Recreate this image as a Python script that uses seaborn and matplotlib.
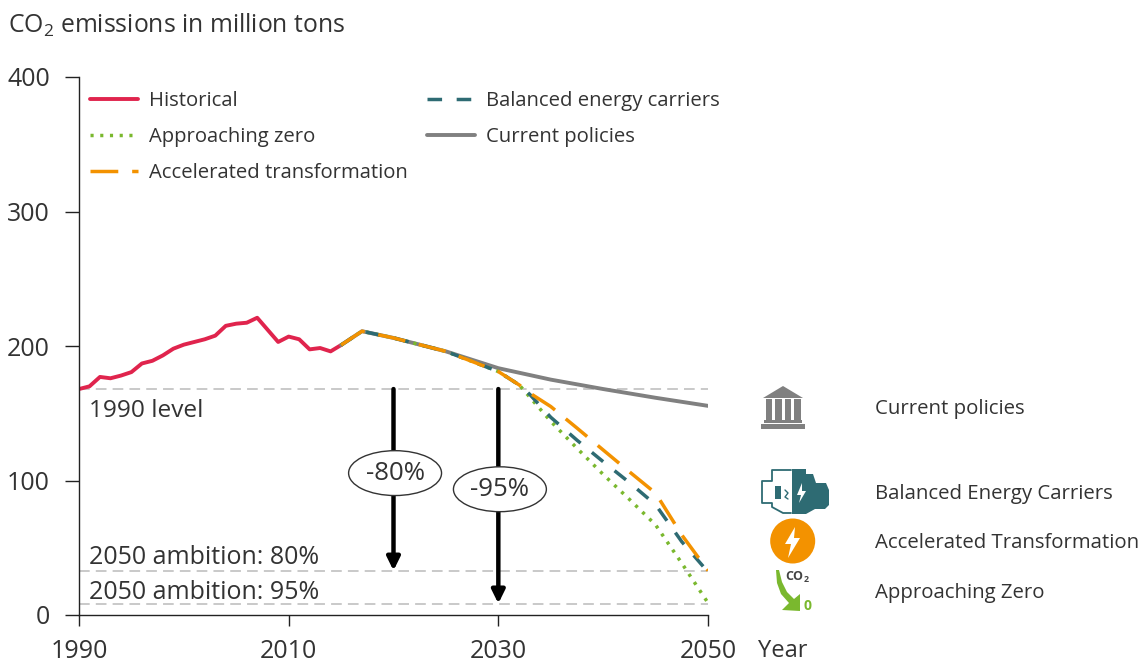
import numpy as np
import pandas as pd
import matplotlib
matplotlib.use("Agg")
import matplotlib.pyplot as plt
from matplotlib.patches import Circle, Polygon, Rectangle
import seaborn as sns

hist_years = list(range(1990, 2016))
hist_values = [168, 170, 177, 176, 178, 180.6, 187, 189, 193, 198, 201, 203, 205,
               207.7, 215, 216.6, 217.3, 221, 212, 203, 207, 205, 197.5, 198.5, 196, 200.7]

shared_years = [2015, 2017, 2020, 2025, 2030, 2032]
shared_values = [200.7, 211, 206, 196, 181, 171]

current_years = [2015, 2017, 2020, 2025, 2030, 2035, 2040, 2045, 2050]
current_values = [200.7, 211, 206, 196, 183.5, 175, 168, 161.5, 155.5]

zero_years = [2033, 2035, 2037.5, 2040, 2042.5, 2045, 2047.5, 2050]
zero_values = [162, 144, 124, 104.5, 86, 67, 38.5, 9]

balanced_years = [2033, 2035, 2037.5, 2040, 2042.5, 2045, 2047.5, 2050]
balanced_values = [164, 147, 130, 114, 98.5, 82, 54.5, 32]

accelerated_years = [2033, 2035, 2037.5, 2040, 2042.5, 2045, 2047.5, 2050]
accelerated_values = [165, 155, 139, 122.7, 106.5, 90.6, 59.5, 33]

levels = [168, 33, 8.5]
level_labels = ["1990 level", "2050 ambition: 80%", "2050 ambition: 95%"]
icon_labels = ["Current policies", "Balanced Energy Carriers", "Accelerated Transformation", "Approaching Zero"]

RED = "#E0244D"
GREEN = "#7AB82E"
ORANGE = "#F39200"
TEAL = "#2E6B73"
GREY = "#808080"
INK = "#333333"

sns.set_theme(style="ticks")
plt.rcParams["font.family"] = ["Open Sans", "DejaVu Sans"]
plt.rcParams["mathtext.default"] = "regular"

fig = plt.figure(figsize=(11.46, 6.62), dpi=100)
ax = fig.add_axes([79 / 1146, 1 - 615 / 662, 629 / 1146, 538 / 662])

for y in levels:
    ax.axhline(y, color="#BBBBBB", lw=1.1, ls=(0, (7, 4)), zorder=1)

sns.lineplot(x=hist_years, y=hist_values, color=RED, lw=2.8, ax=ax, label="Historical")
sns.lineplot(x=current_years, y=current_values, color=GREY, lw=2.8, ax=ax, label="Current policies")
sns.lineplot(x=shared_years + zero_years, y=shared_values + zero_values, color=GREEN, lw=2.5,
             ls=(0, (0.9, 1.9)), ax=ax, label="Approaching zero")
sns.lineplot(x=shared_years + balanced_years, y=shared_values + balanced_values, color=TEAL, lw=2.5,
             ls=(0, (4.2, 4.2)), ax=ax, label="Balanced energy carriers")
sns.lineplot(x=shared_years + accelerated_years, y=shared_values + accelerated_values, color=ORANGE, lw=2.5,
             ls=(0, (8, 4)), ax=ax, label="Accelerated transformation")

handles, labels = ax.get_legend_handles_labels()
order = ["Historical", "Approaching zero", "Accelerated transformation",
         "Balanced energy carriers", "Current policies"]
handles = [handles[labels.index(n)] for n in order]
ax.legend(handles, order, ncol=2, frameon=False, fontsize=14.6, labelcolor=INK,
          loc="upper left", bbox_to_anchor=(11 / 629, 1 - 14 / 538), handlelength=2.36, handletextpad=0.55,
          columnspacing=0.95, labelspacing=0.78, borderaxespad=0, borderpad=0)

ax.set_xlim(1990, 2050)
ax.set_ylim(0, 400)
ax.set_xticks([1990, 2010, 2030, 2050])
ax.set_yticks([0, 100, 200, 300, 400])
ax.tick_params(axis="both", labelsize=18, labelcolor=INK, color="#222222", width=1)
ax.tick_params(axis="y", length=10, pad=11)
ax.tick_params(axis="x", length=8, pad=9)
sns.despine(ax=ax)
for s in ["left", "bottom"]:
    ax.spines[s].set_color("#222222")
    ax.spines[s].set_linewidth(1)
ax.patch.set_alpha(0)

# level labels
ax.text(1991, 152, level_labels[0], fontsize=17.6, color=INK, va="center")
ax.text(1991, 43, level_labels[1], fontsize=18, color=INK, va="center")
ax.text(1991, 17, level_labels[2], fontsize=18, color=INK, va="center")

# arrows with the ellipse labels
for x, end, yl, lab in [(2020, 33, 105.5, "-80%"), (2030, 8.5, 93.5, "-95%")]:
    ax.annotate("", xy=(x, end), xytext=(x, 168),
                arrowprops=dict(arrowstyle="-|>,head_width=0.32,head_length=0.65", color="black", lw=3.2,
                                shrinkA=0, shrinkB=0))
    ax.text(x + 0.15, yl, lab, fontsize=18.6, color=INK, ha="center", va="center", zorder=6,
            bbox=dict(boxstyle="ellipse,pad=0.13", fc="white", ec="#333333", lw=1))

# overlay in pixel coordinates for the header, right labels and icons
ov = fig.add_axes([0, 0, 1, 1], zorder=5)
ov.set_xlim(0, 1146)
ov.set_ylim(662, 0)
ov.axis("off")
ov.patch.set_alpha(0)

ov.text(8, 25, "CO$_2$ emissions in million tons", fontsize=17.8, color=INK, va="center")
ov.text(758, 651, "Year", fontsize=17, color=INK, va="center")
for y, lab in zip([409, 494, 543, 593], icon_labels):
    ov.text(875, y, lab, fontsize=14.7, color=INK, va="center")

# bank icon
ov.add_patch(Polygon([(763, 398), (783, 386), (803, 398)], fc=GREY, ec="none"))
for x in [765.5, 775, 784.5, 794]:
    ov.add_patch(Rectangle((x, 399), 6.5, 21, fc=GREY, ec="none"))
ov.add_patch(Rectangle((764, 420), 38, 3, fc=GREY, ec="none"))
ov.add_patch(Rectangle((761, 424), 44, 4.5, fc=GREY, ec="none"))

# engine icon
ov.add_patch(Polygon([(792, 469), (806, 469), (806, 474), (813, 474), (816, 483), (826, 483),
                      (829, 490), (829, 505), (825, 509), (815, 509), (806, 514), (792, 514)],
                     fc=TEAL, ec="none"))
ov.add_patch(Polygon([(802, 483), (797, 495), (801, 495), (799, 503), (806, 491), (802, 491)],
                     fc="white", ec="none"))
ov.plot([791, 772, 772, 762, 762, 772, 772, 783, 791], [470, 470, 481, 481, 503, 503, 507, 513, 513],
        color=TEAL, lw=1.3)
ov.add_patch(Rectangle((775, 486), 6, 13, fc=TEAL, ec="none"))
ov.plot([785, 788, 785, 788], [490, 493, 497, 499], color=TEAL, lw=1)

# lightning circle icon
ov.add_patch(Circle((792.7, 541), 22.5, fc=ORANGE, ec="none"))
ov.add_patch(Polygon([(795, 527), (785, 544), (791, 544), (788, 558), (800, 538), (794, 538)],
                     fc="white", ec="none"))

# CO2 to zero icon
ov.add_patch(Polygon([(776, 570), (777, 583), (781, 594), (789, 603), (782, 610), (800, 611), (800, 594),
                      (794, 599), (787, 592), (782, 582), (779, 570)], fc=GREEN, ec="none"))
ov.text(797, 577, "CO$_2$", fontsize=9, fontweight="bold", color="#444444", ha="center", va="center")
ov.text(808, 606, "0", fontsize=10, fontweight="bold", color=GREEN, ha="center", va="center")

fig.savefig("out.png", dpi=100)
